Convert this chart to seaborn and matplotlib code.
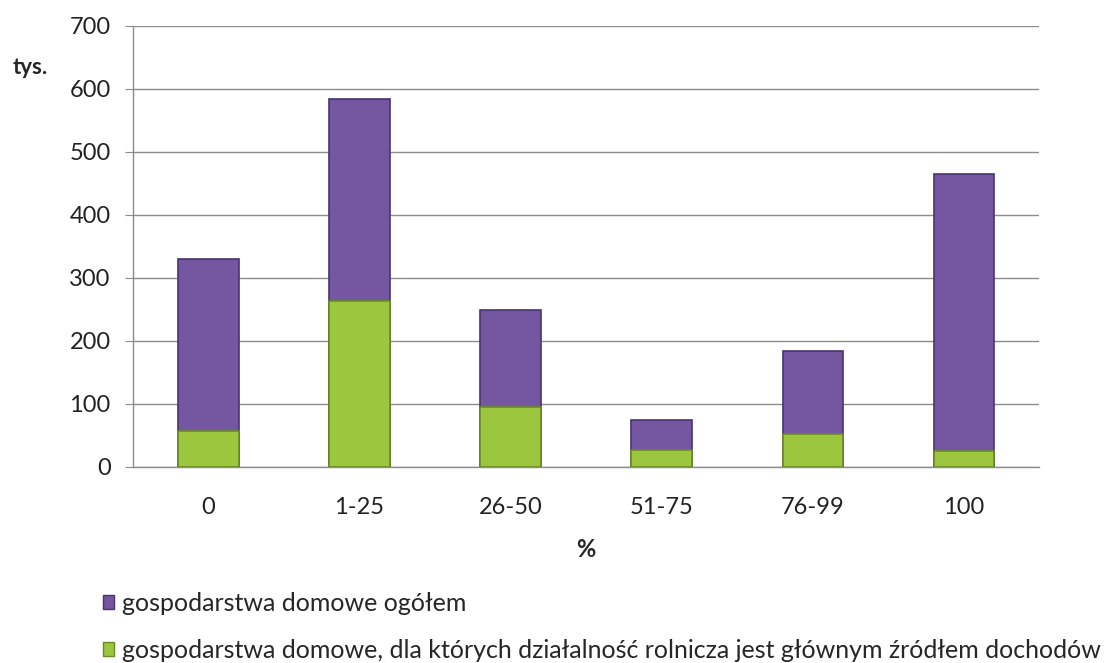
import matplotlib
matplotlib.use("Agg")
import matplotlib.pyplot as plt
import seaborn as sns
import pandas as pd
from matplotlib.patches import Patch

# data (thousands)
categories = ["0", "1-25", "26-50", "51-75", "76-99", "100"]
total = [330, 584, 249, 75, 184, 465]
main_income = [56, 263, 95, 26, 52, 25]

purple = "#7556a0"
green = "#9cc63e"
label_total = "gospodarstwa domowe ogółem"
label_main = "gospodarstwa domowe, dla których działalność rolnicza jest głównym źródłem dochodów"

sns.set_style("white")
plt.rcParams["font.family"] = ["Lato", "DejaVu Sans"]

df = pd.DataFrame({"cat": categories, "total": total, "main": main_income})

fig = plt.figure(figsize=(11.07, 6.63), dpi=100)
ax = fig.add_axes([0.120, 0.296, 0.819, 0.665])

sns.barplot(data=df, x="cat", y="total", color=purple, width=0.4,
            saturation=1, edgecolor="#4a3470", linewidth=1.2, ax=ax, zorder=3)
sns.barplot(data=df, x="cat", y="main", color=green, width=0.4,
            saturation=1, edgecolor="#6a8a28", linewidth=1.2, ax=ax, zorder=4)

ax.set_ylim(0, 700)
ax.set_yticks(range(0, 701, 100))
ax.set_xlim(-0.5, len(categories) - 0.5)
ax.yaxis.grid(True, color="#8c8c8c", linewidth=1)
ax.xaxis.grid(False)
ax.set_axisbelow(True)

for side in ["top", "right"]:
    ax.spines[side].set_visible(False)
for side in ["left", "bottom"]:
    ax.spines[side].set_color("#8c8c8c")
    ax.spines[side].set_linewidth(1)

# tick marks between categories on x axis
ax.set_xticks(range(len(categories)))
ax.set_xticklabels(categories)
ax.set_xticks([i - 0.5 for i in range(len(categories) + 1)], minor=True)
ax.tick_params(axis="x", which="major", length=0, pad=22, labelsize=17, colors="#222222")
ax.tick_params(axis="x", which="minor", length=8, color="#8c8c8c", direction="out")
ax.tick_params(axis="y", length=6, color="#8c8c8c", direction="out", pad=10,
               labelsize=17, labelcolor="#222222", left=True)

ax.set_xlabel("%", fontsize=17, fontweight="bold", labelpad=14)
ax.set_ylabel("")
fig.text(0.011, 0.898, "tys.", fontsize=16, fontweight="bold", va="center")

handles = [Patch(facecolor=purple, edgecolor="#4a3470"),
           Patch(facecolor=green, edgecolor="#6a8a28")]
fig.legend(handles, [label_total, label_main], loc="upper left",
           bbox_to_anchor=(0.093, 0.107), bbox_transform=fig.transFigure,
           frameon=False, fontsize=18, handlelength=0.45, handleheight=0.45,
           handletextpad=0.3, labelspacing=0.95, borderaxespad=0, borderpad=0)

fig.savefig("out.png", dpi=100)
